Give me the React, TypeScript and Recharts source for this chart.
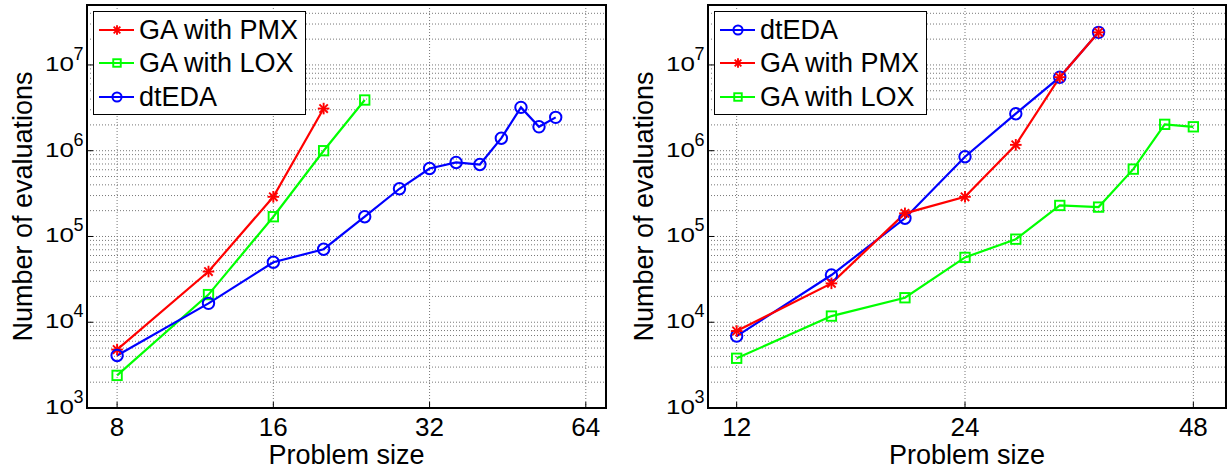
import React from 'react';
import {
  LineChart,
  Line,
  XAxis,
  YAxis,
  CartesianGrid,
  ReferenceLine,
  ReferenceArea,
  Legend,
  Label,
} from 'recharts';

const FONT = '"Liberation Sans", Arial, Helvetica, sans-serif';

// ---------- Data: left panel ----------
const leftPmxSizes = [8, 12, 16, 20];
const leftPmxEvals = [4800, 39000, 290000, 3100000];
const leftLoxSizes = [8, 12, 16, 20, 24];
const leftLoxEvals = [2400, 21000, 170000, 1000000, 3900000];
const leftEdaSizes = [8, 12, 16, 20, 24, 28, 32, 36, 40, 44, 48, 52, 56];
const leftEdaEvals = [4100, 16600, 50000, 71000, 170000, 360000, 620000, 730000, 690000, 1400000, 3200000, 1900000, 2450000];

// ---------- Data: right panel ----------
const rightEdaSizes = [12, 16, 20, 24, 28, 32, 36];
const rightEdaEvals = [6900, 35500, 163000, 850000, 2700000, 7200000, 24000000];
const rightPmxSizes = [12, 16, 20, 24, 28, 32, 36];
const rightPmxEvals = [7900, 28400, 186000, 290000, 1170000, 7200000, 24000000];
const rightLoxSizes = [12, 16, 20, 24, 28, 32, 36, 40, 44, 48];
const rightLoxEvals = [3800, 11800, 19300, 57000, 93000, 230000, 220000, 610000, 2030000, 1900000];

// ---------- Axes ----------
const leftXTicks = [8, 16, 32, 64];
const rightXTicks = [12, 24, 48];
const leftXDomain = [7, 70];
const rightXDomain = [11, 53];
const yTicks = [1e3, 1e4, 1e5, 1e6, 1e7];
const yTickExponents = ['3', '4', '5', '6', '7'];
const yDomain = [1e3, 5e7];
const yGridValues = [
  1e3, 2e3, 3e3, 4e3, 5e3, 6e3, 7e3, 8e3, 9e3,
  1e4, 2e4, 3e4, 4e4, 5e4, 6e4, 7e4, 8e4, 9e4,
  1e5, 2e5, 3e5, 4e5, 5e5, 6e5, 7e5, 8e5, 9e5,
  1e6, 2e6, 3e6, 4e6, 5e6, 6e6, 7e6, 8e6, 9e6,
  1e7, 2e7, 3e7, 4e7,
];

const RED = '#ff0000';
const GREEN = '#00ff00';
const BLUE = '#0000ff';
const GRID = '#777';

const zip = (xs: number[], ys: number[]) => xs.map((n, i) => ({ n, v: ys[i] }));

type Marker = 'star' | 'square' | 'circle';

const MarkerShape = ({ cx, cy, color, kind, size = 1 }: { cx: number; cy: number; color: string; kind: Marker; size?: number }) => {
  if (cx == null || cy == null || isNaN(cx) || isNaN(cy)) return null;
  if (kind === 'circle') {
    return <circle cx={cx} cy={cy} r={5.7 * size} fill="none" stroke={color} strokeWidth={2} />;
  }
  if (kind === 'square') {
    const h = 4.7 * size;
    return <rect x={cx - h} y={cy - h} width={2 * h} height={2 * h} fill="none" stroke={color} strokeWidth={1.9} />;
  }
  const r = 5.8 * size;
  const d = r * 0.72;
  return (
    <g stroke={color} strokeWidth={1.9}>
      <line x1={cx - r} y1={cy} x2={cx + r} y2={cy} />
      <line x1={cx} y1={cy - r} x2={cx} y2={cy + r} />
      <line x1={cx - d} y1={cy - d} x2={cx + d} y2={cy + d} />
      <line x1={cx - d} y1={cy + d} x2={cx + d} y2={cy - d} />
    </g>
  );
};

type Series = { name: string; color: string; marker: Marker; data: { n: number; v: number }[] };

const leftSeries: Series[] = [
  { name: 'GA with PMX', color: RED, marker: 'star', data: zip(leftPmxSizes, leftPmxEvals) },
  { name: 'GA with LOX', color: GREEN, marker: 'square', data: zip(leftLoxSizes, leftLoxEvals) },
  { name: 'dtEDA', color: BLUE, marker: 'circle', data: zip(leftEdaSizes, leftEdaEvals) },
];

const rightSeries: Series[] = [
  { name: 'dtEDA', color: BLUE, marker: 'circle', data: zip(rightEdaSizes, rightEdaEvals) },
  { name: 'GA with PMX', color: RED, marker: 'star', data: zip(rightPmxSizes, rightPmxEvals) },
  { name: 'GA with LOX', color: GREEN, marker: 'square', data: zip(rightLoxSizes, rightLoxEvals) },
];

const XTick = (props: any) => {
  const { x, y, payload } = props;
  return (
    <g>
      <line x1={x} x2={x} y1={y} y2={y - 6} stroke="#000" strokeWidth={1} />
      <text x={x} y={y + 28} textAnchor="middle" fontSize={26} fontFamily={FONT} fill="#000">
        {payload.value}
      </text>
    </g>
  );
};

const YTick = (props: any) => {
  const { x, y, payload } = props;
  const idx = yTicks.indexOf(payload.value);
  const exp = idx >= 0 ? yTickExponents[idx] : '';
  return (
    <g>
      <line x1={x} x2={x + 6} y1={y} y2={y} stroke="#000" strokeWidth={1} />
      <text
        transform={`translate(${x - 13},${y + 6}) scale(1,0.8)`}
        textAnchor="end"
        fontSize={26}
        fontFamily={FONT}
        fill="#000"
      >
        10
      </text>
      <text x={x - 13.5} y={y - 5} fontSize={18} fontFamily={FONT} fill="#000">
        {exp}
      </text>
    </g>
  );
};

const makeLegend = (series: Series[]) => () => (
  <div
    style={{
      border: '1.5px solid #000',
      background: '#fff',
      width: 213,
      paddingTop: 1,
      paddingBottom: 0,
      boxSizing: 'border-box',
      fontFamily: FONT,
    }}
  >
    {series.map((s) => (
      <div key={s.name} style={{ height: 33.5, display: 'flex', alignItems: 'center' }}>
        <svg width={45} height={24} style={{ display: 'block', flex: '0 0 auto' }}>
          <line x1={5} x2={40} y1={12} y2={12} stroke={s.color} strokeWidth={2} />
          <MarkerShape cx={23} cy={12} color={s.color} kind={s.marker} size={0.8} />
        </svg>
        <span style={{ fontSize: 27, color: '#000', lineHeight: '30px', whiteSpace: 'nowrap' }}>{s.name}</span>
      </div>
    ))}
  </div>
);

const Panel = ({
  width,
  yAxisWidth,
  rightMargin,
  xDomain,
  xTicks,
  series,
  legendLeft,
}: {
  width: number;
  yAxisWidth: number;
  rightMargin: number;
  xDomain: number[];
  xTicks: number[];
  series: Series[];
  legendLeft: number;
}) => (
  <LineChart width={width} height={470} margin={{ top: 5, right: rightMargin, bottom: 0, left: 0 }}>
    <CartesianGrid horizontal={false} stroke={GRID} strokeDasharray="1 2" />
    {yGridValues.map((g) => (
      <ReferenceLine key={g} y={g} stroke={GRID} strokeDasharray="1 2" strokeWidth={1} />
    ))}
    <XAxis
      type="number"
      dataKey="n"
      scale="log"
      domain={xDomain}
      ticks={xTicks}
      interval={0}
      allowDataOverflow
      height={62}
      tickSize={0}
      tickMargin={0}
      tickLine={false}
      axisLine={{ stroke: '#000', strokeWidth: 2 }}
      tick={<XTick />}
    >
      <Label
        content={(p: any) => {
          const vb = p.viewBox || {};
          return (
            <text x={vb.x + vb.width / 2} y={vb.y + 56} textAnchor="middle" fontSize={27} fontFamily={FONT} fill="#000">
              Problem size
            </text>
          );
        }}
      />
    </XAxis>
    <YAxis
      type="number"
      scale="log"
      domain={yDomain}
      ticks={yTicks}
      interval={0}
      allowDataOverflow
      width={yAxisWidth}
      tickSize={0}
      tickMargin={0}
      tickLine={false}
      axisLine={{ stroke: '#000', strokeWidth: 2 }}
      tick={<YTick />}
    >
      <Label
        content={(p: any) => {
          const vb = p.viewBox || {};
          const cx = vb.x + vb.width - 55;
          const cy = vb.y + vb.height / 2;
          return (
            <text
              x={cx}
              y={cy}
              transform={`rotate(-90, ${cx}, ${cy})`}
              textAnchor="middle"
              fontSize={27}
              fontFamily={FONT}
              fill="#000"
            >
              Number of evaluations
            </text>
          );
        }}
      />
    </YAxis>
    <ReferenceArea x1={xDomain[0]} x2={xDomain[1]} y1={yDomain[0]} y2={yDomain[1]} fill="none" stroke="#000" strokeWidth={2} />
    {series.map((s) => (
      <Line
        key={s.name}
        data={s.data}
        dataKey="v"
        name={s.name}
        type="linear"
        stroke={s.color}
        strokeWidth={2.2}
        isAnimationActive={false}
        dot={(p: any) => <MarkerShape key={`${s.name}-${p.index}`} cx={p.cx} cy={p.cy} color={s.color} kind={s.marker} />}
        activeDot={false}
      />
    ))}
    <Legend
      layout="vertical"
      align="center"
      verticalAlign="middle"
      content={makeLegend(series)}
      wrapperStyle={{ left: legendLeft, top: 11, width: 'auto', height: 'auto', right: 'auto', bottom: 'auto' }}
    />
  </LineChart>
);

export default function App() {
  return (
    <div style={{ position: 'absolute', left: 0, top: 0, width: 1229, height: 470, background: '#fff' }}>
      <div style={{ position: 'absolute', left: 0, top: 0 }}>
        <Panel
          width={615}
          yAxisWidth={87}
          rightMargin={9}
          xDomain={leftXDomain}
          xTicks={leftXTicks}
          series={leftSeries}
          legendLeft={93}
        />
      </div>
      <div style={{ position: 'absolute', left: 615, top: 0 }}>
        <Panel
          width={614}
          yAxisWidth={93}
          rightMargin={3}
          xDomain={rightXDomain}
          xTicks={rightXTicks}
          series={rightSeries}
          legendLeft={99}
        />
      </div>
    </div>
  );
}
